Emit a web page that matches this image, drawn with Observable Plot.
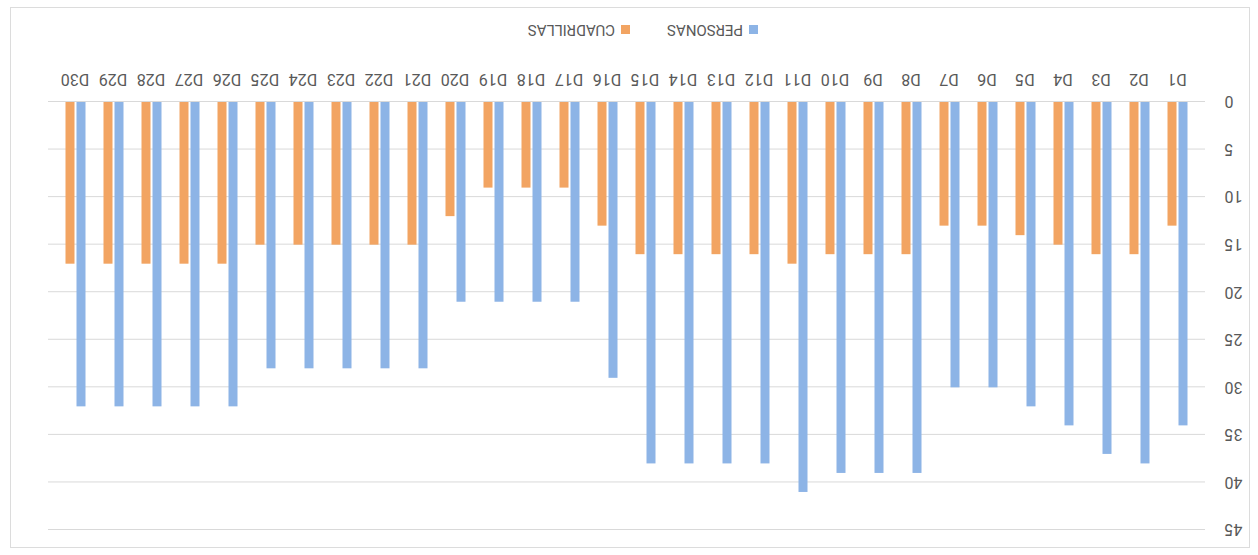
<!DOCTYPE html>
<html>
<head>
<meta charset="utf-8">
<script src="https://cdn.jsdelivr.net/npm/d3@7"></script>
<script src="https://cdn.jsdelivr.net/npm/@observablehq/plot@0.6"></script>
<style>
  html, body { margin: 0; padding: 0; background: #fff; overflow: hidden; }
  #wrap { position: relative; width: 1258px; height: 555px; transform: rotate(180deg); transform-origin: 50% 50%; }
  #border { position: absolute; left: 8px; top: 7px; width: 1240px; height: 541px; border: 1px solid #dcdcdc; box-sizing: border-box; pointer-events: none; }
  #legend { position: absolute; left: 0; top: 500px; width: 1258px; height: 55px; font-family: Roboto, sans-serif; font-size: 15px; color: #595959; }
  .item { position: absolute; top: 16px; display: flex; align-items: center; }
  .sw { width: 9px; height: 9px; margin-right: 6px; }
</style>
</head>
<body>
<div id="wrap">
  <div id="chart"></div>
  <div id="legend"></div>
  <div id="border"></div>
</div>
<script>
const days = ["D1","D2","D3","D4","D5","D6","D7","D8","D9","D10","D11","D12","D13","D14","D15","D16","D17","D18","D19","D20","D21","D22","D23","D24","D25","D26","D27","D28","D29","D30"];
const personas   = [34,38,37,34,32,30,30,39,39,39,41,38,38,38,38,29,21,21,21,21,28,28,28,28,28,32,32,32,32,32];
const cuadrillas = [13,16,16,15,14,13,13,16,16,16,17,16,16,16,16,13,9,9,9,12,15,15,15,15,15,17,17,17,17,17];
const yTicks = [0,5,10,15,20,25,30,35,40,45];
const seriesNames = ["PERSONAS","CUADRILLAS"];
const colors = ["#8db4e6","#f2a462"];

const dataP = days.map((d,i) => ({day: d, value: personas[i]}));
const dataC = days.map((d,i) => ({day: d, value: cuadrillas[i]}));

const chart = Plot.plot({
  width: 1258,
  height: 500,
  marginLeft: 53,
  marginRight: 48,
  marginTop: 25,
  marginBottom: 47,
  style: {fontFamily: "Roboto, sans-serif", fontSize: "16px", color: "#595959", background: "transparent"},
  x: {domain: days, paddingInner: 0.767, paddingOuter: 0.383, label: null},
  y: {domain: [0,45], ticks: yTicks, label: null},
  marks: [
    Plot.gridY(yTicks, {stroke: "#d9d9d9", strokeOpacity: 1}),
    Plot.barY(dataP, {x: "day", y: "value", fill: colors[0], dx: -5.5}),
    Plot.barY(dataC, {x: "day", y: "value", fill: colors[1], dx: 5.5}),
    Plot.axisX({tickSize: 0, tickPadding: 16, label: null}),
    Plot.axisY(yTicks, {tickSize: 0, tickPadding: 20, label: null})
  ]
});
document.getElementById("chart").appendChild(chart);

const legend = document.getElementById("legend");
const lefts = [500, 628];
seriesNames.forEach((name, i) => {
  const it = document.createElement("div");
  it.className = "item";
  it.style.left = lefts[i] + "px";
  const sw = document.createElement("div");
  sw.className = "sw";
  sw.style.background = colors[i];
  const t = document.createElement("span");
  t.textContent = name;
  it.appendChild(sw); it.appendChild(t);
  legend.appendChild(it);
});
</script>
</body>
</html>
